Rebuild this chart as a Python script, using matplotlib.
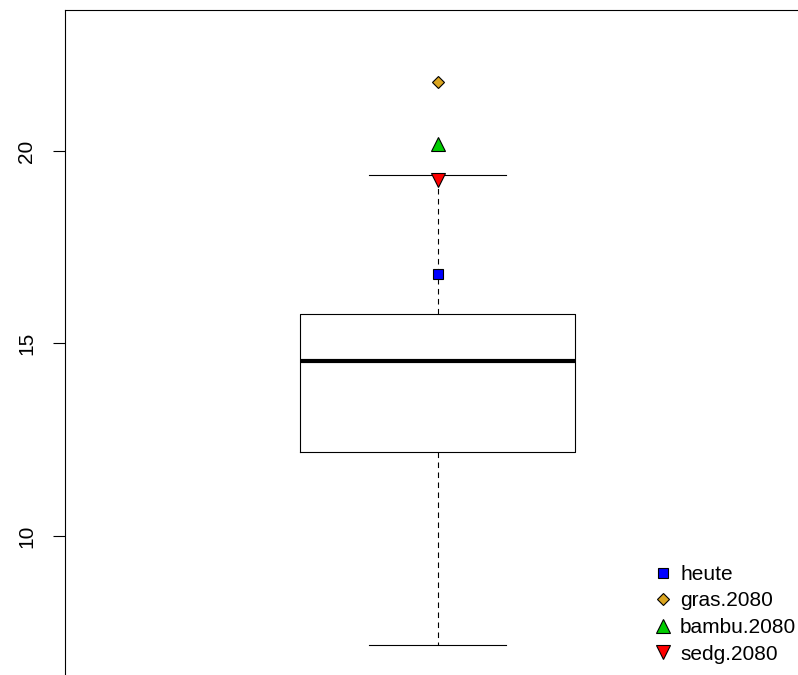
import matplotlib
matplotlib.use("Agg")
import matplotlib.pyplot as plt
from matplotlib.lines import Line2D

plt.rcParams["font.family"] = ["Liberation Sans", "DejaVu Sans"]

# box statistics
q1 = 12.17
median = 14.55
q3 = 15.77
whisker_lo = 7.17
whisker_hi = 19.38

# scenario values placed on top of the box
scenarios = ["heute", "gras.2080", "bambu.2080", "sedg.2080"]
scenario_values = [16.8, 21.8, 20.18, 19.25]
markers = ["s", "D", "^", "v"]
colors = ["#0000FF", "#DAA520", "#00CD00", "#FF0000"]
marker_sizes = [6.8, 6.6, 9.5, 9.5]

yticks = [10, 15, 20]

fig = plt.figure(figsize=(7.98, 6.75), dpi=100)
# axes runs past the right and bottom edge of the figure
W, H = 798, 675
left, right, top, bottom = 65, 810, 10, 690
ax = fig.add_axes([left / W, 1 - bottom / H, (right - left) / W, (bottom - top) / H])

stats = [dict(med=median, q1=q1, q3=q3, whislo=whisker_lo, whishi=whisker_hi, fliers=[])]
ax.bxp(stats, positions=[1], widths=0.37, capwidths=0.185, showfliers=False,
       boxprops=dict(color="black", linewidth=0.8),
       medianprops=dict(color="black", linewidth=3, solid_capstyle="butt"),
       whiskerprops=dict(color="black", linewidth=0.8, linestyle=(0, (5, 4))),
       capprops=dict(color="black", linewidth=0.8))

for val, m, c, s in zip(scenario_values, markers, colors, marker_sizes):
    ax.plot([1], [val], marker=m, markersize=s, markerfacecolor=c,
            markeredgecolor="black", markeredgewidth=0.8, linestyle="none", zorder=5)

ax.set_xlim(0.5, 1.5)
ax.set_ylim(6.0, 23.66)
ax.set_xticks([])
ax.set_yticks(yticks)
ax.set_yticklabels([str(t) for t in yticks], rotation=90, va="center", fontsize=15)
ax.tick_params(axis="y", length=8.6, width=0.8, pad=12)
for sp in ax.spines.values():
    sp.set_linewidth(0.8)

handles = [Line2D([], [], marker=m, markersize=s, markerfacecolor=c,
                  markeredgecolor="black", markeredgewidth=0.8, linestyle="none")
           for m, c, s in zip(markers, colors, marker_sizes)]
fig.legend(handles, scenarios, loc="upper left", bbox_to_anchor=(655 / W, 1 - 565 / H),
           frameon=False, fontsize=15, handlelength=0.8, handletextpad=0.4,
           labelspacing=0.36, borderpad=0, borderaxespad=0)

fig.savefig("out.png", dpi=100)
